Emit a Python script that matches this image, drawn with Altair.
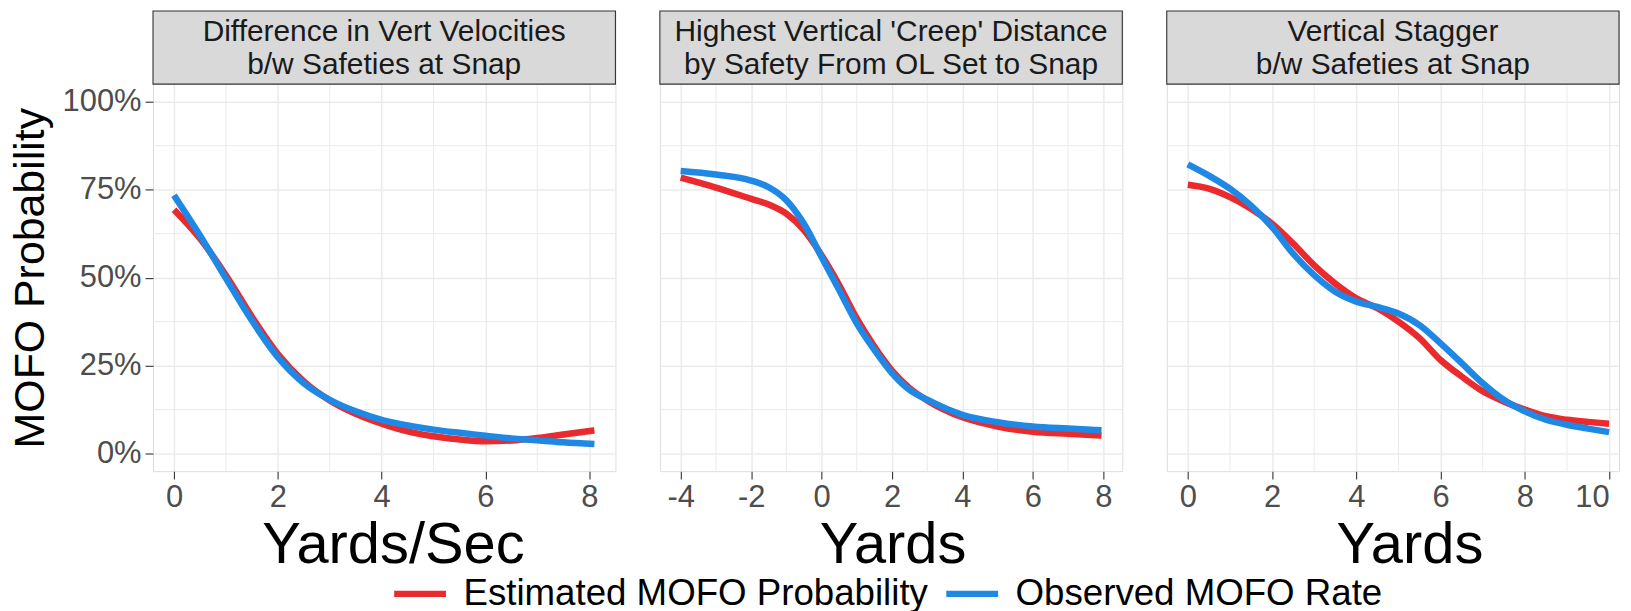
import altair as alt
import pandas as pd

FONT = "Liberation Sans"

# ---------------- data ----------------
series_names = ["Estimated MOFO Probability", "Observed MOFO Rate"]
series_colors = ["#EA2A2D", "#1F88E5"]

panel_titles = [
    "Difference in Vert Velocities\nb/w Safeties at Snap",
    "Highest Vertical 'Creep' Distance\nby Safety From OL Set to Snap",
    "Vertical Stagger\nb/w Safeties at Snap",
]
x_titles = ["Yards/Sec", "Yards", "Yards"]

# Panel 1: Difference in vertical velocities
p1_x = [0, 0.5, 1, 1.5, 2, 2.5, 3, 3.5, 4, 4.5, 5, 5.5, 6, 6.5, 7, 7.5, 8.1]
p1_est = [0.693, 0.611, 0.507, 0.389, 0.283, 0.205, 0.151, 0.113, 0.085, 0.063,
          0.049, 0.040, 0.035, 0.037, 0.044, 0.054, 0.066]
p1_obs = [0.734, 0.620, 0.498, 0.378, 0.274, 0.200, 0.153, 0.120, 0.096, 0.080,
          0.068, 0.059, 0.051, 0.043, 0.038, 0.032, 0.027]

# Panel 2: Highest vertical creep distance
p2_x = [-4, -3, -2, -1.5, -1, -0.5, 0, 0.5, 1, 1.5, 2, 2.5, 3, 4, 5, 6, 7, 7.95]
p2_est = [0.784, 0.756, 0.724, 0.708, 0.682, 0.635, 0.564, 0.479, 0.384, 0.304,
          0.236, 0.186, 0.151, 0.103, 0.077, 0.062, 0.056, 0.051]
p2_obs = [0.803, 0.793, 0.776, 0.757, 0.720, 0.653, 0.559, 0.465, 0.370, 0.295,
          0.229, 0.181, 0.153, 0.110, 0.089, 0.077, 0.071, 0.066]

# Panel 3: Vertical stagger
p3_x = [0, 0.5, 1, 1.5, 2, 2.5, 3, 3.5, 4, 4.5, 5, 5.5, 6, 6.5, 7, 7.5, 8, 8.5, 9, 9.5, 10]
p3_est = [0.764, 0.753, 0.729, 0.696, 0.653, 0.597, 0.535, 0.483, 0.441, 0.413, 0.375,
          0.328, 0.266, 0.219, 0.177, 0.148, 0.125, 0.106, 0.096, 0.090, 0.085]
p3_obs = [0.822, 0.790, 0.753, 0.705, 0.644, 0.568, 0.507, 0.460, 0.432, 0.417, 0.398,
          0.365, 0.313, 0.257, 0.200, 0.153, 0.120, 0.096, 0.082, 0.071, 0.061]

# the right-hand panel is cut by the picture's edge in the reference
x_domains = [[-0.405, 8.505], [-4.59, 8.54], [-0.5, 10.236]]
x_major = [[0, 2, 4, 6, 8], [-4, -2, 0, 2, 4, 6, 8], [0, 2, 4, 6, 8, 10]]
x_minor = [[1, 3, 5, 7], [-3, -1, 1, 3, 5, 7], [1, 3, 5, 7, 9]]
y_major = [0, 0.25, 0.5, 0.75, 1.0]
y_minor = [0.125, 0.375, 0.625, 0.875]

# ---------------- layout ----------------
widths = [464, 464, 453.8]
title_x = [240.7, 233.4, 243.5]
PH = 388.3         # plotting area height
SH = 73.4          # strip height
H = SH + PH
Y_LO = -0.05
Y_HI = Y_LO + H * 1.1 / PH   # extend domain so the strip sits above the plotting area
GRID = "#EBEBEB"

legend = alt.Legend(
    orient="none", legendX=238.5, legendY=555, direction="horizontal", title=None,
    symbolType="stroke", symbolSize=2704, symbolStrokeWidth=6.5,
    labelFontSize=36.8, labelFont=FONT, labelColor="black", labelLimit=900,
    labelOffset=14, columnPadding=4, padding=0,
)


def make_panel(i, xs, est, obs, show_y):
    W = widths[i]
    df = pd.DataFrame({
        "x": list(xs) + list(xs),
        "y": list(est) + list(obs),
        "series": [series_names[0]] * len(xs) + [series_names[1]] * len(xs),
    })
    xscale = alt.Scale(domain=x_domains[i], nice=False, zero=False)
    yscale = alt.Scale(domain=[Y_LO, Y_HI], nice=False, zero=False)

    xaxis = alt.Axis(
        values=x_major[i], labelExpr="'' + datum.value", title=x_titles[i],
        titleFontSize=58, titleColor="black", titleFontWeight="normal", titleFont=FONT,
        titleX=title_x[i],
        labelFontSize=31, labelColor="#4D4D4D", labelFont=FONT, labelPadding=3,
        tickSize=8, tickColor="#333333", tickWidth=1.1, titlePadding=5,
        domain=False, grid=True, gridColor=GRID, gridWidth=1.5,
        labelFlush=(12 if i == 2 else False),
    )
    if show_y:
        yaxis = alt.Axis(
            values=y_major, format=".0%", title="MOFO Probability",
            titleFontSize=43, titleColor="black", titleFontWeight="normal", titleFont=FONT,
            titleY=SH + PH / 2,
            labelFontSize=31, labelColor="#4D4D4D", labelFont=FONT, labelPadding=4,
            tickSize=8, tickColor="#333333", tickWidth=1.1, titlePadding=9.5,
            domain=False, grid=True, gridColor=GRID, gridWidth=1.5, labelFlush=False,
        )
    else:
        yaxis = alt.Axis(
            values=y_major, labels=False, ticks=False, domain=False, title=None,
            grid=True, gridColor=GRID, gridWidth=1.5,
        )

    vminor = alt.Chart(pd.DataFrame({"x": x_minor[i]})).mark_rule(
        color=GRID, strokeWidth=1
    ).encode(x=alt.X("x:Q", scale=xscale, axis=xaxis))
    hminor = alt.Chart(pd.DataFrame({"y": y_minor})).mark_rule(
        color=GRID, strokeWidth=1
    ).encode(y=alt.Y("y:Q", scale=yscale, axis=yaxis))

    lines = alt.Chart(df).mark_line(strokeWidth=6.5, interpolate="monotone").encode(
        x=alt.X("x:Q", scale=xscale, axis=xaxis),
        y=alt.Y("y:Q", scale=yscale, axis=yaxis),
        color=alt.Color("series:N",
                        scale=alt.Scale(domain=series_names, range=series_colors),
                        legend=legend),
    )

    sdf = pd.DataFrame({"t": [panel_titles[i]]})
    rect = alt.Chart(sdf).mark_rect(fill="#D9D9D9", stroke="#333333", strokeWidth=1.1).encode(
        x=alt.value(0), x2=alt.value(W), y=alt.value(0), y2=alt.value(SH)
    )
    txt = alt.Chart(sdf).mark_text(
        fontSize=30, color="#1A1A1A", font=FONT, lineBreak="\n", lineHeight=32.4,
        baseline="middle", align="center",
    ).encode(text="t:N", x=alt.value(W / 2), y=alt.value(21.5))

    return alt.layer(vminor, hminor, lines, rect, txt).properties(width=W, height=H)


panels = [
    make_panel(0, p1_x, p1_est, p1_obs, True),
    make_panel(1, p2_x, p2_est, p2_obs, False),
    make_panel(2, p3_x, p3_est, p3_obs, False),
]

chart = alt.hconcat(*panels, spacing=44.6, bounds="flush").resolve_scale(
    x="independent", y="independent"
).properties(
    padding={"left": 0.5, "top": 0, "right": 0, "bottom": 0}
).configure_view(
    stroke="#333333", strokeWidth=1.1
).configure(
    font=FONT, background="white"
)

chart.save("out.html", embed_options={"renderer": "svg", "actions": False})
